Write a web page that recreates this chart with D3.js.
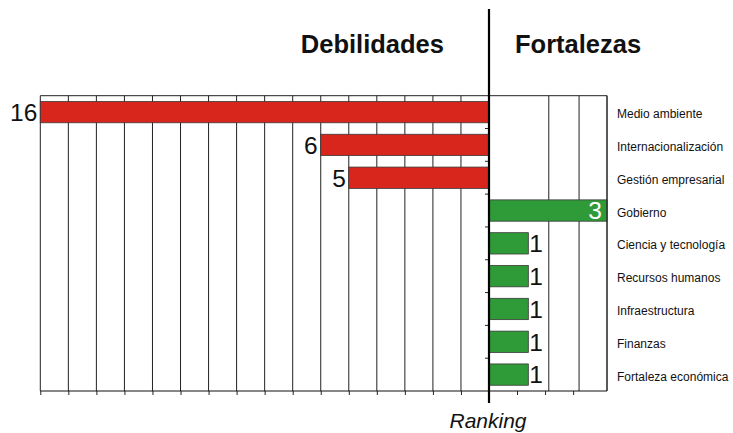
<!DOCTYPE html>
<html>
<head>
<meta charset="utf-8">
<script src="https://cdn.jsdelivr.net/npm/d3@7"></script>
<style>
  html, body { margin: 0; padding: 0; background: #fff; }
  svg { display: block; font-family: "Liberation Sans", Arial, sans-serif; }
</style>
</head>
<body>
<svg id="chart" width="733" height="433"></svg>
<script>
// ---- data ----
const categories = [
  "Medio ambiente", "Internacionalización", "Gestión empresarial", "Gobierno",
  "Ciencia y tecnología", "Recursos humanos", "Infraestructura", "Finanzas",
  "Fortaleza económica"
];
const debilidades = [16, 6, 5, null, null, null, null, null, null];
const fortalezas  = [null, null, null, 3, 1, 1, 1, 1, 1];
const leftGridValues = [-16, -15, -14, -13, -12, -11, -10, -9, -8, -7, -6, -5, -4, -3, -2, -1];
const axisTickValues = [-16, -15, -14, -13, -12, -11, -10, -9, -8, -7, -6, -5, -4, -3, -2, -1, 0, 1, 2, 3];
const rightGridValues = [1.52, 2.29, 3];
const titleLeft = "Debilidades";
const titleRight = "Fortalezas";
const axisTitle = "Ranking";

// ---- layout ----
const svg = d3.select("#chart");
const plotTop = 95.7, plotBottom = 391, plotLeft = 40.3, center = 489, plotRight = 607;
const red = "#d9261c", green = "#2e9a38";

const xLeft = d3.scaleLinear().domain([-16, 0]).range([plotLeft, center]);
const xRight = d3.scaleLinear().domain([0, 3]).range([center, plotRight]);
const y = d3.scaleBand().domain(categories).range([plotTop, plotBottom])
  .paddingInner(0.35).paddingOuter(0.175);

// gridlines left
svg.append("g").selectAll("line").data(leftGridValues).join("line")
  .attr("x1", d => xLeft(d)).attr("x2", d => xLeft(d))
  .attr("y1", plotTop).attr("y2", plotBottom)
  .attr("stroke", "#222").attr("stroke-width", 1);
// gridlines right
svg.append("g").selectAll("line").data(rightGridValues).join("line")
  .attr("x1", d => xRight(d)).attr("x2", d => xRight(d))
  .attr("y1", plotTop).attr("y2", plotBottom)
  .attr("stroke", "#222").attr("stroke-width", 1);
// top border
svg.append("line").attr("x1", plotLeft).attr("x2", plotRight)
  .attr("y1", plotTop).attr("y2", plotTop).attr("stroke", "#222");

// bars left
const barsL = categories.map((c, i) => ({c, v: debilidades[i]})).filter(d => d.v != null);
svg.append("g").selectAll("rect").data(barsL).join("rect")
  .attr("x", d => xLeft(-d.v)).attr("width", d => xLeft(0) - xLeft(-d.v))
  .attr("y", d => y(d.c)).attr("height", y.bandwidth())
  .attr("fill", red).attr("stroke", "#3a3a3a").attr("stroke-width", 0.8);
svg.append("g").selectAll("text").data(barsL).join("text")
  .attr("x", d => xLeft(-d.v) - 3).attr("y", d => y(d.c) + y.bandwidth() / 2 + 8.8)
  .attr("text-anchor", "end").attr("font-size", 24.5).attr("fill", "#111")
  .text(d => d.v);

// bars right
const barsR = categories.map((c, i) => ({c, v: fortalezas[i]})).filter(d => d.v != null);
svg.append("g").selectAll("rect").data(barsR).join("rect")
  .attr("x", xRight(0)).attr("width", d => xRight(d.v) - xRight(0))
  .attr("y", d => y(d.c)).attr("height", y.bandwidth())
  .attr("fill", green).attr("stroke", "#3a3a3a").attr("stroke-width", 0.8);
svg.append("g").selectAll("text").data(barsR).join("text")
  .attr("x", d => (xRight(d.v) - xRight(0) > 60) ? xRight(d.v) - 5 : xRight(d.v) + 1)
  .attr("y", d => y(d.c) + y.bandwidth() / 2 + 8.8)
  .attr("text-anchor", d => (xRight(d.v) - xRight(0) > 60) ? "end" : "start")
  .attr("font-size", 24.5)
  .attr("fill", d => (xRight(d.v) - xRight(0) > 60) ? "#fff" : "#111")
  .text(d => d.v);

// right border
svg.append("line").attr("x1", plotRight).attr("x2", plotRight)
  .attr("y1", plotTop).attr("y2", plotBottom).attr("stroke", "#222");

// bottom axis
const axisG = svg.append("g").attr("transform", `translate(0,${plotBottom})`)
  .call(d3.axisBottom(xLeft).tickValues(axisTickValues).tickSize(4).tickFormat(""));
axisG.select(".domain").remove();
axisG.selectAll(".tick line").attr("stroke", "#222");
svg.append("line").attr("x1", plotLeft).attr("x2", plotRight)
  .attr("y1", plotBottom).attr("y2", plotBottom).attr("stroke", "#111").attr("stroke-width", 1.2);

// category ticks on center axis
const catBounds = categories.slice(1).map(c => y(c) - y.step() * y.paddingInner() / 2);
svg.append("g").selectAll("line").data(catBounds).join("line")
  .attr("x1", center - 4).attr("x2", center)
  .attr("y1", d => d).attr("y2", d => d).attr("stroke", "#222");

// center axis
svg.append("line").attr("x1", center).attr("x2", center)
  .attr("y1", 9).attr("y2", 403).attr("stroke", "#000").attr("stroke-width", 2.2);

// category labels
svg.append("g").selectAll("text").data(categories).join("text")
  .attr("x", 617).attr("y", d => y(d) + y.bandwidth() / 2 + 6)
  .attr("font-size", 12).attr("fill", "#111").text(d => d);

// titles
svg.append("text").attr("x", center - 45).attr("y", 53).attr("text-anchor", "end")
  .attr("font-size", 25.5).attr("font-weight", "bold").attr("fill", "#111").text(titleLeft);
svg.append("text").attr("x", center + 26).attr("y", 53).attr("text-anchor", "start")
  .attr("font-size", 25.5).attr("font-weight", "bold").attr("fill", "#111").text(titleRight);
svg.append("text").attr("x", center - 1).attr("y", 428).attr("text-anchor", "middle")
  .attr("font-size", 21).attr("font-style", "italic").attr("fill", "#111").text(axisTitle);
</script>
</body>
</html>
